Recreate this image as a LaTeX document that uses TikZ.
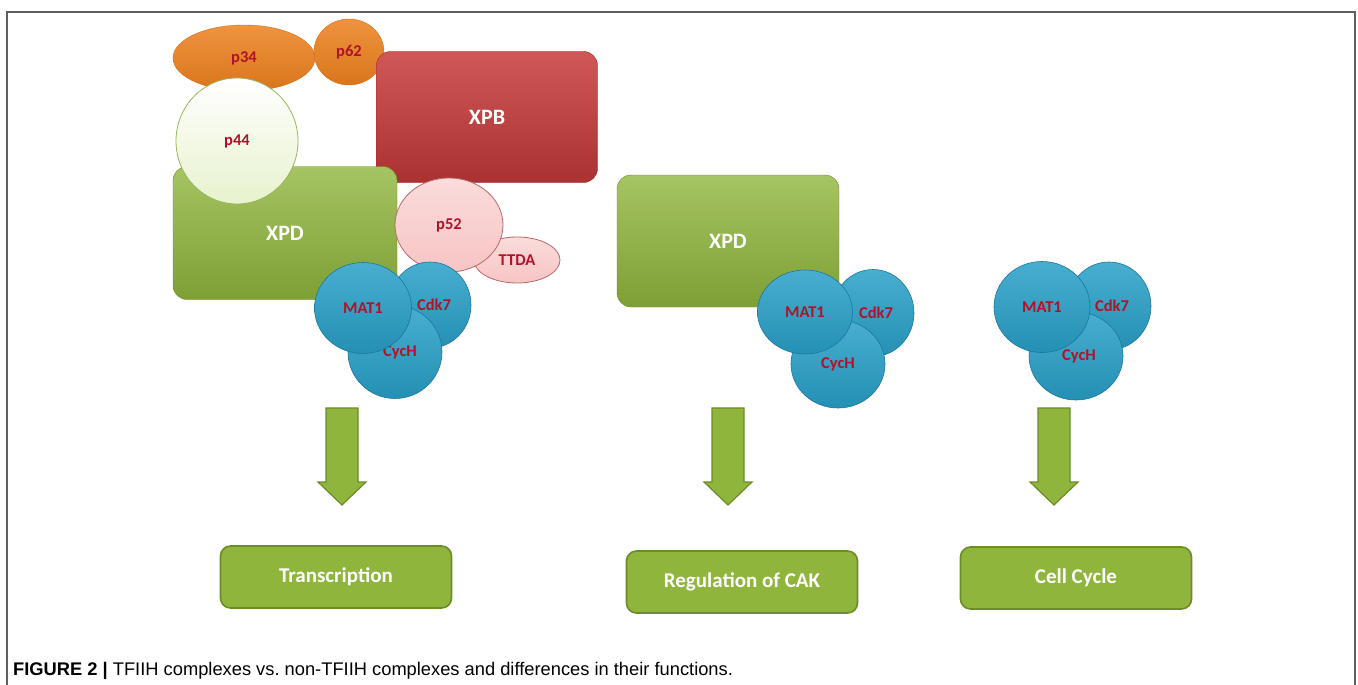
\documentclass[tikz,border=0pt]{standalone}
\usepackage{fontspec}
\setmainfont{Liberation Sans}
\newfontfamily\protfont{Carlito}
\usepackage{tikz}
\usetikzlibrary{shapes.geometric,calc}
\frenchspacing
\definecolor{protred}{RGB}{178,18,40}
\definecolor{orangefill}{RGB}{236,128,30}
\definecolor{orangeline}{RGB}{215,110,20}
\definecolor{xpbfill}{RGB}{200,58,58}
\definecolor{xpbline}{RGB}{165,40,40}
\definecolor{greenfill}{RGB}{143,181,60}
\definecolor{greenline}{RGB}{108,140,38}
\definecolor{palegreen}{RGB}{241,249,222}
\definecolor{palegreenline}{RGB}{150,182,90}
\definecolor{pinkfill}{RGB}{248,196,196}
\definecolor{pinkline}{RGB}{185,105,105}
\definecolor{cakblue}{RGB}{40,160,200}
\definecolor{cakline}{RGB}{28,118,158}
\definecolor{frameline}{RGB}{95,95,95}
\tikzstyle{sub}=[ellipse,inner sep=0pt,text=protred,font=\protfont\bfseries\fontsize{16.5}{19}\selectfont]
\tikzstyle{orangesub}=[sub,draw=orangeline,top color=orangefill!85!white,bottom color=orangefill!92!black]
\tikzstyle{pinksub}=[sub,draw=pinkline,line width=0.8pt,top color=pinkfill!60!white,bottom color=pinkfill]
\tikzstyle{caksub}=[sub,draw=cakline,line width=0.6pt,top color=cakblue!85!white,bottom color=cakblue!90!black]
\tikzstyle{core}=[rectangle,rounded corners=14pt,inner sep=0pt,text=white,font=\protfont\bfseries\fontsize{22}{26}\selectfont]
\tikzstyle{funcbox}=[rectangle,rounded corners=10pt,draw=greenline,line width=1.6pt,fill=greenfill,text=white,minimum width=231,minimum height=62,font=\protfont\bfseries\fontsize{21}{25}\selectfont]
\tikzstyle{fatarrow}=[draw=greenline,fill=greenfill,line width=1.2pt,line join=miter]
\tikzstyle{frame}=[draw=frameline,line width=1.4pt]

\begin{document}
\begin{tikzpicture}[x=1pt,y=-1pt]
  \useasboundingbox (0,0) rectangle (1358,685);

  % TFIIH complex
        \node[orangesub,minimum width=142,minimum height=66] (p34) at (244,58) {p34};
        \node[orangesub,minimum width=70,minimum height=66] (p62) at (349,52) {p62};
        \node[core,draw=xpbline,top color=xpbfill!85!white,bottom color=xpbfill!85!black,minimum width=221,minimum height=131] (XPB) at (487,117) {XPB};
        \node[core,draw=greenline,top color=greenfill!80!white,bottom color=greenfill!88!black,minimum width=224,minimum height=133] (XPD) at (285,233) {XPD};
        \node[sub,draw=palegreenline,line width=0.8pt,top color=white,bottom color=palegreen!90!greenfill,minimum width=122,minimum height=126] (p44) at (237,141) {p44};
        \node[pinksub,minimum width=86,minimum height=46] (TTDA) at (517,260) {TTDA};
        \node[pinksub,minimum width=108,minimum height=94] (p52) at (449,225) {p52};
        \node[caksub,minimum width=82,minimum height=86] (Cdk7a) at (430,305) {\hspace*{8pt}Cdk7};
        \node[caksub,minimum width=94,minimum height=93] (CycHa) at (395,352) {\hspace*{10pt}CycH};
        \node[caksub,minimum width=97,minimum height=91] (MAT1a) at (363,308) {MAT1};

  % XPD with CAK
        \node[core,draw=greenline,top color=greenfill!80!white,bottom color=greenfill!88!black,minimum width=222,minimum height=132] (XPDb) at (728,241) {XPD};
        \node[caksub,minimum width=82,minimum height=87] (Cdk7b) at (873,313) {\hspace*{6pt}Cdk7};
        \node[caksub,minimum width=94,minimum height=88] (CycHb) at (838,364) {CycH};
        \node[caksub,minimum width=95,minimum height=84] (MAT1b) at (805,312) {MAT1};

  % CAK alone
        \node[caksub,minimum width=84,minimum height=88] (Cdk7c) at (1109,306) {\hspace*{6pt}Cdk7};
        \node[caksub,minimum width=94,minimum height=88] (CycHc) at (1076,356) {\hspace*{6pt}CycH};
        \node[caksub,minimum width=96,minimum height=91] (MAT1c) at (1042,307) {MAT1};

  % functions
    \node[funcbox] (TRbox) at (336,577) {Transcription};
    \node[funcbox] (CAKbox) at (742,582) {Regulation of CAK};
    \node[funcbox] (CCbox) at (1076,578) {Cell Cycle};

    \coordinate (TRtop) at (342,408);
    \coordinate (TRtip) at (342,505);
    \coordinate (CAKtop) at (728,408);
    \coordinate (CAKtip) at (728,505);
    \coordinate (CCtop) at (1054,408);
    \coordinate (CCtip) at (1054,505);
  \foreach \a in {TR,CAK,CC}
    \draw[fatarrow] ($(\a top)+(-16,0)$) -- ($(\a top)+(16,0)$) -- ($(\a tip)+(16,-23)$) -- ($(\a tip)+(24,-23)$)
      -- (\a tip) -- ($(\a tip)+(-24,-23)$) -- ($(\a tip)+(-16,-23)$) -- cycle;

  % frame and caption
  \draw[frame] (7,685) -- (7,12) -- (1355,12) -- (1355,685);
  \node[anchor=base west,inner sep=0pt,font=\fontsize{18.3}{21}\selectfont] (caption) at (13,675)
    {\textbf{FIGURE 2 |} TFIIH complexes vs. non-TFIIH complexes and differences in their functions.};
\end{tikzpicture}
\end{document}
